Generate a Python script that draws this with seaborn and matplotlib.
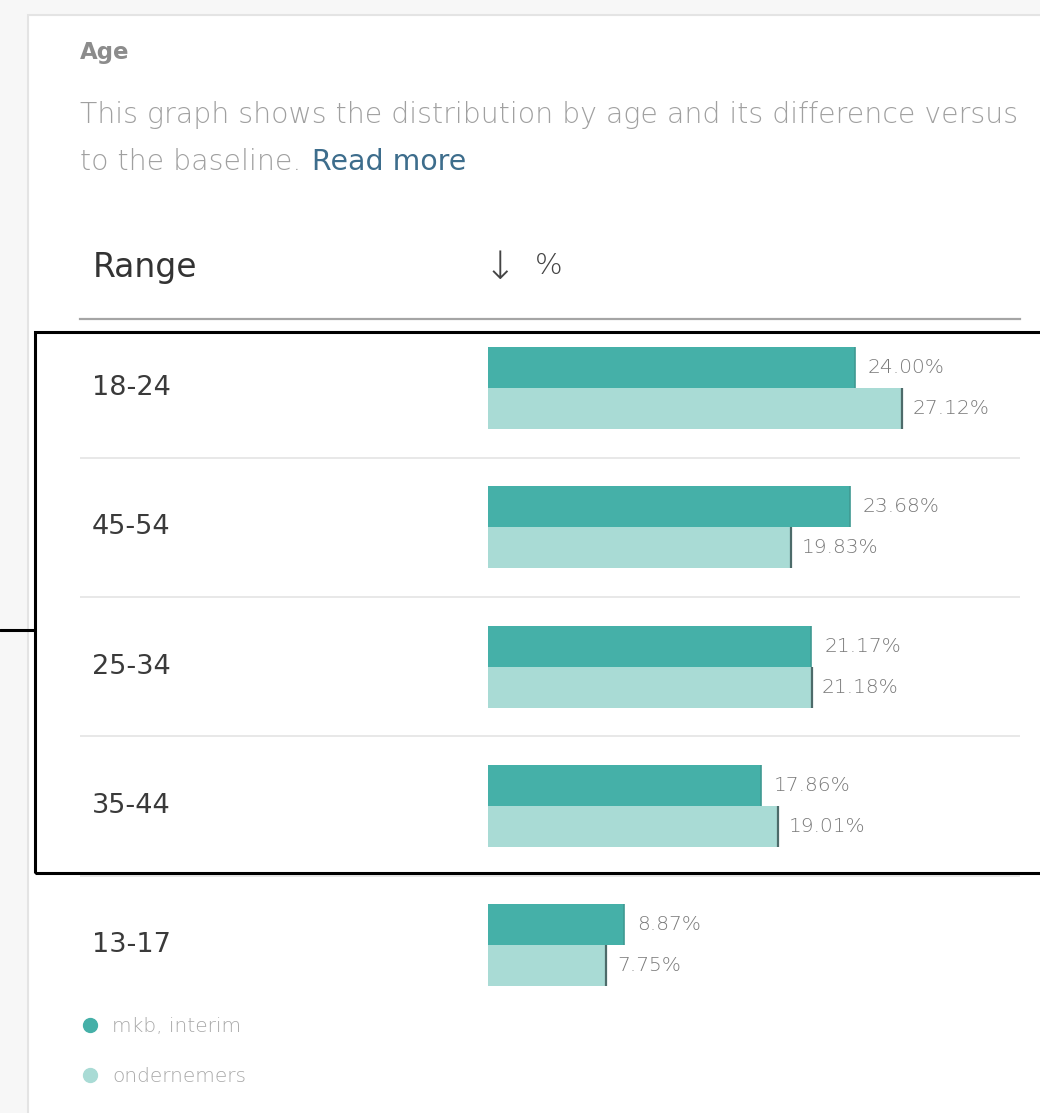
import matplotlib
matplotlib.use("Agg")
import matplotlib.pyplot as plt
import matplotlib.transforms as mtransforms
from matplotlib.patches import Rectangle
from matplotlib.lines import Line2D
import pandas as pd
import seaborn as sns

# ---- data -------------------------------------------------------------
age_ranges = ["18-24", "45-54", "25-34", "35-44", "13-17"]
series_names = ["mkb, interim", "ondernemers"]
mkb_interim = [24.00, 23.68, 21.17, 17.86, 8.87]
ondernemers = [27.12, 19.83, 21.18, 19.01, 7.75]

title = "Age"
desc_line1 = "This graph shows the distribution by age and its difference versus"
desc_line2 = "to the baseline."
link_text = "Read more"
col_range = "Range"
col_pct = "%"

# ---- style ------------------------------------------------------------
sns.set_theme(style="white")
plt.rcParams["font.family"] = ["DejaVu Sans"]

DARK = "#45b0a8"
LIGHT = "#a9dbd5"
W, H = 1040, 1113


def fx(x):
    return x / W


def fy(y):
    return 1 - y / H


df = pd.DataFrame({
    "Range": age_ranges * 2,
    "Series": [series_names[0]] * len(age_ranges) + [series_names[1]] * len(age_ranges),
    "Value": mkb_interim + ondernemers,
})

fig = plt.figure(figsize=(W / 100, H / 100), dpi=100)
fig.patch.set_facecolor("#f7f7f7")
renderer = fig.canvas.get_renderer()


def fit_width(t, width_px):
    """Scale a text's font size so that it spans width_px pixels."""
    ext = t.get_window_extent(renderer=renderer)
    t.set_fontsize(t.get_fontsize() * width_px / ext.width)
    return t.get_fontsize()


# card background
fig.patches.append(Rectangle((fx(28), fy(1130)), fx(1040), fy(15) - fy(1130),
                             transform=fig.transFigure, facecolor="white",
                             edgecolor="#e4e4e4", linewidth=1.5, zorder=-5))

# bar area: x axis in percent, 15.28 px per percent, zero at px 488
PX_PER_PCT = 15.28
left_px, right_px, zero_px = 80, 1020, 488
top_px, row_px = 318.5, 139.25
ax = fig.add_axes([fx(left_px), fy(top_px + 5 * row_px),
                   fx(right_px - left_px), (5 * row_px) / H])
ax.set_facecolor("none")
ax.set_zorder(2)

sns.barplot(data=df, y="Range", x="Value", hue="Series", order=age_ranges,
            hue_order=series_names, palette=[DARK, LIGHT], orient="h",
            width=0.59, gap=0, dodge=True, legend=False, ax=ax,
            saturation=1, linewidth=0)

ax.set_xlim(-(zero_px - left_px) / PX_PER_PCT, (right_px - zero_px) / PX_PER_PCT)
ax.set_ylim(4.5, -0.5)
ax.set_xlabel("")
ax.set_ylabel("")
ax.set_xticks([])
ax.set_yticks([])
for side in ["left", "right", "bottom"]:
    ax.spines[side].set_visible(False)
ax.spines["top"].set_color("#a5a5a5")
ax.spines["top"].set_linewidth(1.6)

# row separators
for b in [0.5, 1.5, 2.5, 3.5]:
    ax.axhline(b, color="#e6e6e6", linewidth=1.3, zorder=0)

# end markers and value labels
dark_bars, light_bars = ax.containers[0], ax.containers[1]
for p in dark_bars:
    xe = p.get_width()
    ax.plot([xe, xe], [p.get_y(), p.get_y() + p.get_height()],
            color="#3f9a92", linewidth=1.2, solid_capstyle="butt")
for p in light_bars:
    xe = p.get_width()
    ax.plot([xe, xe], [p.get_y(), p.get_y() + p.get_height()],
            color="#4d6b6a", linewidth=1.6, solid_capstyle="butt")

ax.bar_label(dark_bars, labels=[f"{v:.2f}%" for v in mkb_interim],
             padding=9.5, color="#7a7a7a", fontsize=14.5, fontweight="light")
ax.bar_label(light_bars, labels=[f"{v:.2f}%" for v in ondernemers],
             padding=7.5, color="#7a7a7a", fontsize=14.5, fontweight="light")

# category names on the left
blend = mtransforms.blended_transform_factory(fig.transFigure, ax.transData)
for i, name in enumerate(age_ranges):
    ax.text(fx(92), i, name, transform=blend, ha="left", va="center",
            fontsize=19.5, color="#3a3a3a")

# header texts
fig.text(fx(80), fy(52), title, fontsize=16.5, fontweight="bold", color="#8c8c8c",
         ha="left", va="center")
t1 = fig.text(fx(80), fy(115), desc_line1, fontsize=18, color="#a0a0a0",
              ha="left", va="center", fontweight="light")
desc_size = fit_width(t1, 938)
fig.text(fx(80), fy(162), desc_line2, fontsize=desc_size, color="#a0a0a0",
         ha="left", va="center", fontweight="light")
fig.text(fx(312), fy(162), link_text, fontsize=desc_size, color="#3d6d8c",
         ha="left", va="center")
tr = fig.text(fx(93), fy(267), col_range, fontsize=21, color="#333333",
              ha="left", va="center")
fit_width(tr, 104)
fig.text(fx(484), fy(268), "\u2193", fontsize=28, color="#444444",
         ha="left", va="center", fontweight="light")
fig.text(fx(535), fy(266), col_pct, fontsize=21, color="#444444",
         ha="left", va="center", fontweight="light")

# legend
handles = [Line2D([], [], marker="o", linestyle="none", markersize=10,
                  markerfacecolor=c, markeredgecolor=c) for c in [DARK, LIGHT]]
ax.legend(handles, series_names, loc="upper left",
          bbox_to_anchor=(fx(80), fy(1017)), bbox_transform=fig.transFigure,
          frameon=False, labelcolor="#a8a8a8", handletextpad=0.6,
          labelspacing=1.55, handlelength=1.0, borderaxespad=0, borderpad=0,
          prop={"weight": "light", "size": 14.5})

# outlined group
fig.patches.append(Rectangle((fx(35), fy(873)), fx(1060) - fx(35), fy(332) - fy(873),
                             transform=fig.transFigure, fill=False,
                             edgecolor="black", linewidth=2.2, zorder=5))
fig.lines.append(Line2D([0, fx(35)], [fy(630), fy(630)], transform=fig.transFigure,
                        color="black", linewidth=2.2, zorder=5))

fig.savefig("out.png", dpi=100, facecolor=fig.get_facecolor())
